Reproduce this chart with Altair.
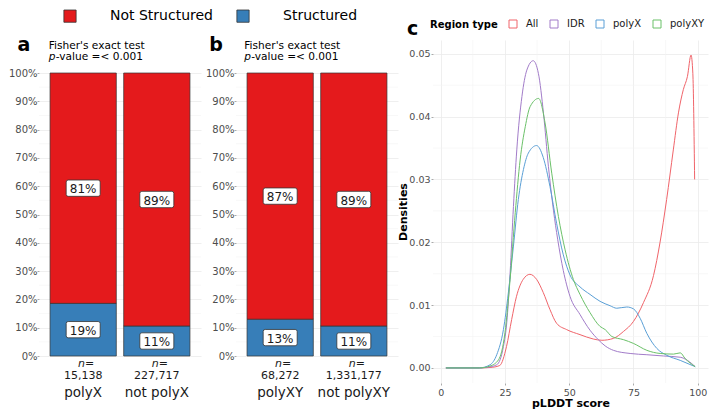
import altair as alt
import pandas as pd

FONT = "DejaVu Sans"

# ---------------- Panel a / b data ----------------
status_levels = ["Not Structured", "Structured"]
status_colors = ["#E41A1C", "#377EB8"]

a_groups = ["polyX", "not polyX"]
a_counts = ["15,138", "227,717"]
a_structured = [0.186, 0.106]
a_struct_labels = ["19%", "11%"]
a_not_labels = ["81%", "89%"]

b_groups = ["polyXY", "not polyXY"]
b_counts = ["68,272", "1,331,177"]
b_structured = [0.130, 0.106]
b_struct_labels = ["13%", "11%"]
b_not_labels = ["87%", "89%"]

test_title = "Fisher's exact test"
p_italic = "p"
p_rest = "-value =< 0.001"

pct_ticks = [0, 0.1, 0.2, 0.3, 0.4, 0.5, 0.6, 0.7, 0.8, 0.9, 1.0]
pct_minor = [0.05, 0.15, 0.25, 0.35, 0.45, 0.55, 0.65, 0.75, 0.85, 0.95]

# ---------------- Panel c data ----------------
region_levels = ["All", "IDR", "polyX", "polyXY"]
region_colors = ["#F0646A", "#A27CC9", "#5A9FD6", "#6BC169"]

all_x = [2, 15, 20, 23, 25.6, 27.6, 29.5, 32.1, 34.7, 37.3, 39.9, 42.5, 45.1, 49, 54.2,
         59.4, 62.7, 67.2, 71.1, 75, 78.9, 82.8, 85.3, 87.9, 90.5, 92.5, 94.4, 96, 97.4, 98.1, 98.8]
all_d = [0, 0, 0.0001, 0.0004, 0.0034, 0.0077, 0.0114, 0.0141, 0.0149, 0.0141, 0.0120, 0.0093,
         0.0071, 0.0061, 0.0053, 0.0046, 0.0044, 0.0047, 0.0058, 0.0074, 0.0104, 0.0147, 0.0199,
         0.0268, 0.0347, 0.0406, 0.0443, 0.0464, 0.0498, 0.0469, 0.0300]

idr_x = [2, 15, 18, 21.8, 24.4, 25.7, 27.0, 28.3, 29.6, 31.6, 33.5, 36.0, 38.0, 40.0, 41.9,
         43.9, 45.5, 47.7, 50.3, 54.2, 58.1, 61.3, 64, 67.2, 73.7, 80.2, 86.7, 93.2, 96, 99]
idr_d = [0, 0, 0.0001, 0.0005, 0.0034, 0.0072, 0.0151, 0.0257, 0.0347, 0.0432, 0.0474, 0.0489,
         0.0469, 0.0405, 0.0321, 0.0250, 0.0205, 0.0155, 0.0114, 0.0085, 0.0060, 0.0045, 0.0035,
         0.0028, 0.0023, 0.0021, 0.0019, 0.0017, 0.0012, 0.0002]

polyx_x = [2, 15, 19.2, 21.8, 24.4, 26.3, 28.3, 30.2, 32.2, 34.1, 37.3, 39.9, 42.5, 45.1, 47.7,
           50.3, 54.2, 58.1, 62, 65.9, 68.5, 72.4, 75, 77.6, 80.2, 84.1, 88, 93.2, 99]
polyx_d = [0, 0, 0.0005, 0.0021, 0.0061, 0.0119, 0.0194, 0.0268, 0.0316, 0.0342, 0.0354, 0.0335,
           0.0289, 0.0230, 0.0180, 0.0148, 0.0129, 0.0117, 0.0106, 0.0099, 0.0095, 0.0097, 0.0094,
           0.0079, 0.0055, 0.0031, 0.0020, 0.0012, 0.0002]

polyxy_x = [2, 15, 19.2, 22.5, 25.0, 27.0, 29.0, 30.9, 32.9, 34.8, 38.1, 40.6, 43.2, 45.8, 48.4,
            51.6, 54.2, 58.1, 62, 64, 66.6, 71.1, 75, 80.2, 85.4, 90.6, 93.2, 95.1, 99]
polyxy_d = [0, 0, 0.0003, 0.0013, 0.0056, 0.0141, 0.0247, 0.0331, 0.0384, 0.0416, 0.0429, 0.0390,
            0.0310, 0.0241, 0.0188, 0.0141, 0.0117, 0.0088, 0.0066, 0.0061, 0.0050, 0.0045, 0.0039,
            0.0028, 0.0023, 0.0022, 0.0024, 0.0015, 0.0002]

x_ticks = [0, 25, 50, 75, 100]
x_minor = [12.5, 37.5, 62.5, 87.5]
d_ticks = [0, 0.01, 0.02, 0.03, 0.04, 0.05]
d_minor = [0.005, 0.015, 0.025, 0.035, 0.045]

# ---------------- layout constants ----------------
BAR_W, BAR_H = 162, 316
Y_TOP = 316 / 283.0
C_W, C_H = 275, 343
BOX_PATH = "M-0.88,-0.48L0.88,-0.48Q1,-0.48 1,-0.36L1,0.36Q1,0.48 0.88,0.48L-0.88,0.48Q-1,0.48 -1,0.36L-1,-0.36Q-1,-0.48 -0.88,-0.48Z"

fill_legend = alt.Legend(
    orient="none", legendX=24, legendY=-31, direction="horizontal", title=None,
    labelFontSize=14, labelFont=FONT, labelColor="black", symbolType="square",
    symbolSize=150, symbolStrokeColor="#333333", symbolStrokeWidth=0.8,
    labelOffset=33, columnPadding=22, labelLimit=400,
)


def bar_panel(groups, counts, structured, s_labels, n_labels, letter, letter_dx, title_dx):
    rows = []
    for g, s, sl, nl in zip(groups, structured, s_labels, n_labels):
        rows.append(dict(group=g, status="Structured", lo=0.0, hi=s, mid=s / 2, label=sl))
        rows.append(dict(group=g, status="Not Structured", lo=s, hi=1.0, mid=(s + 1) / 2, label=nl))
    df = pd.DataFrame(rows)
    ann = pd.DataFrame({"group": groups, "count": counts, "n": ["n="] * len(groups)})
    minor = pd.DataFrame({"v": pct_minor})
    one = pd.DataFrame({"k": [0]})

    x_enc = alt.X("group:N", sort=groups,
                  scale=alt.Scale(paddingInner=0.1, paddingOuter=0.15), axis=None)
    y_axis = alt.Axis(values=pct_ticks, format=".0%", title=None, labelFontSize=10,
                      grid=True, domain=False, labelPadding=0)
    y_scale = alt.Scale(domain=[0, Y_TOP], nice=False, zero=True)

    grid_minor = alt.Chart(minor).mark_rule(color="#F3F3F3", strokeWidth=0.6).encode(
        y=alt.Y("v:Q", scale=y_scale, axis=y_axis))
    bars = alt.Chart(df).mark_bar(stroke="#333333", strokeWidth=0.7).encode(
        x=x_enc,
        y=alt.Y("lo:Q", scale=y_scale, axis=y_axis),
        y2="hi:Q",
        fill=alt.Fill("status:N", scale=alt.Scale(domain=status_levels, range=status_colors),
                      legend=fill_legend),
    )
    boxes = alt.Chart(df).mark_point(shape=BOX_PATH, size=1156, filled=True, fill="white",
                                     stroke="#333333", strokeWidth=0.8, opacity=1).encode(
        x=x_enc, y=alt.Y("mid:Q", scale=y_scale, axis=y_axis))
    texts = alt.Chart(df).mark_text(font=FONT, fontSize=12, color="#1A1A1A", dy=1).encode(
        x=x_enc, y=alt.Y("mid:Q", scale=y_scale, axis=y_axis), text="label:N")
    n_txt = alt.Chart(ann).mark_text(font=FONT, fontSize=11, fontStyle="italic",
                                     baseline="alphabetic", color="#1A1A1A", dx=3).encode(
        x=x_enc, y=alt.value(327), text="n:N")
    c_txt = alt.Chart(ann).mark_text(font=FONT, fontSize=11, baseline="alphabetic",
                                     color="#1A1A1A").encode(
        x=x_enc, y=alt.value(338.5), text="count:N")
    g_txt = alt.Chart(ann).mark_text(font=FONT, fontSize=13.5, baseline="alphabetic",
                                     color="#1A1A1A").encode(
        x=x_enc, y=alt.value(356.5), text="group:N")
    let = alt.Chart(one).mark_text(font=FONT, fontSize=19, fontWeight="bold", text=letter,
                                   baseline="alphabetic", color="black").encode(
        x=alt.value(letter_dx), y=alt.value(11))
    t1 = alt.Chart(one).mark_text(font=FONT, fontSize=10.6, text=test_title, align="left",
                                  baseline="alphabetic", color="black").encode(
        x=alt.value(title_dx), y=alt.value(9))
    t2 = alt.Chart(one).mark_text(font=FONT, fontSize=10.6, fontStyle="italic", text=p_italic,
                                  align="left", baseline="alphabetic", color="black").encode(
        x=alt.value(title_dx), y=alt.value(19.5))
    t3 = alt.Chart(one).mark_text(font=FONT, fontSize=10.6, text=p_rest, align="left",
                                  baseline="alphabetic", color="black").encode(
        x=alt.value(title_dx + 7.0), y=alt.value(19.5))
    return alt.layer(grid_minor, bars, boxes, texts, n_txt, c_txt, g_txt, let, t1, t2, t3).properties(
        width=BAR_W, height=BAR_H)


pa = bar_panel(a_groups, a_counts, a_structured, a_struct_labels, a_not_labels, "a", -15, 9.7)
pb = bar_panel(b_groups, b_counts, b_structured, b_struct_labels, b_not_labels, "b", -20, 8.3)

# ---------------- Panel c ----------------
frames = []
for name, xs, ds in [("All", all_x, all_d), ("IDR", idr_x, idr_d),
                     ("polyX", polyx_x, polyx_d), ("polyXY", polyxy_x, polyxy_d)]:
    frames.append(pd.DataFrame({"region": name, "score": xs, "density": ds}))
dens = pd.concat(frames, ignore_index=True)

xs_c = alt.Scale(domain=[-3, 104], nice=False, zero=False)
ys_c = alt.Scale(domain=[-0.0024, 0.0522], nice=False, zero=False)
x_axis_c = alt.Axis(values=x_ticks, format="d", title="pLDDT score", titleFontWeight="bold",
                    titleFontSize=11, titleColor="black", labelFontSize=9.5, titlePadding=1,
                    labelPadding=2)
y_axis_c = alt.Axis(values=d_ticks, format=".2f", title="Densities", titleFontWeight="bold",
                    titleFontSize=11, titleColor="black", labelFontSize=9.5, titlePadding=0)

gx = alt.Chart(pd.DataFrame({"gx": x_minor})).mark_rule(color="#F3F3F3", strokeWidth=0.6).encode(
    x=alt.X("gx:Q", scale=xs_c, axis=x_axis_c))
gy = alt.Chart(pd.DataFrame({"gy": d_minor})).mark_rule(color="#F3F3F3", strokeWidth=0.6).encode(
    y=alt.Y("gy:Q", scale=ys_c, axis=y_axis_c))
lines = alt.Chart(dens).mark_line(strokeWidth=1, interpolate="monotone").encode(
    x=alt.X("score:Q", scale=xs_c, axis=x_axis_c),
    y=alt.Y("density:Q", scale=ys_c, axis=y_axis_c),
    stroke=alt.Stroke("region:N", scale=alt.Scale(domain=region_levels, range=region_colors),
                      legend=alt.Legend(
                          orient="none", legendX=-3, legendY=-21, direction="horizontal",
                          title="Region type", titleOrient="left", titleFontWeight="bold",
                          titleFontSize=10, titleColor="black", titleFont=FONT,
                          labelFontSize=10, labelColor="#1A1A1A", labelFont=FONT,
                          symbolType="square", symbolSize=64, symbolFillColor="white",
                          symbolStrokeWidth=1, labelOffset=8, columnPadding=9, titlePadding=10)),
    detail="region:N",
)
c_let = alt.Chart(pd.DataFrame({"k": [0]})).mark_text(
    font=FONT, fontSize=19, fontWeight="bold", text="c", baseline="alphabetic", color="black"
).encode(x=alt.value(-20.5), y=alt.value(-5))

pc = alt.layer(gx, gy, lines, c_let).properties(width=C_W, height=C_H)

chart = alt.hconcat(pa, pb, pc, spacing=35, bounds="flush").resolve_scale(
    fill="shared", stroke="independent"
).properties(
    padding={"left": 0, "top": 1, "right": 0, "bottom": 0}
).configure(font=FONT).configure_view(stroke=None).configure_axis(
    labelFont=FONT, titleFont=FONT, labelColor="#4D4D4D", tickColor="#AAAAAA", tickSize=2,
    domain=False, gridColor="#EBEBEB", gridWidth=0.8, labelPadding=1,
)

chart.save("out.html", embed_options={"renderer": "svg", "actions": False})
